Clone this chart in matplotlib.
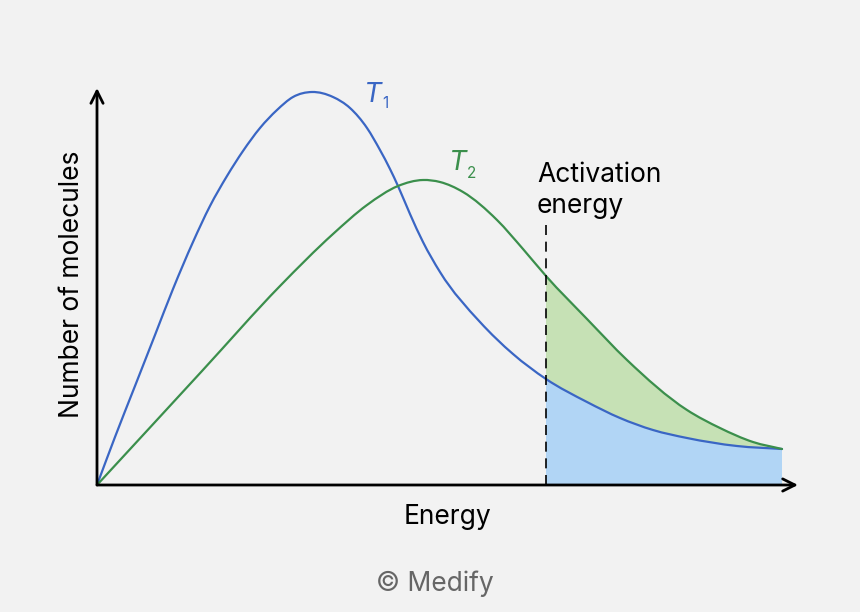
import numpy as np
import matplotlib.pyplot as plt
from matplotlib.path import Path
from matplotlib.patches import PathPatch

# curves (energy, number of molecules)
energy_t1 = [0, 18, 38, 58, 76, 96, 113, 130, 146, 163, 180, 196, 215, 236, 253, 270, 283, 293, 301, 313, 326, 343, 383, 416, 449, 490, 523, 556, 590, 640, 685]
count_t1 = [0, 48, 99, 150, 196, 243, 279, 309, 334, 357, 375, 388, 393, 388, 377, 357, 335, 316, 299, 271, 243, 213, 163, 131, 106, 83, 67, 55, 47, 39, 36]
energy_t2 = [0, 105, 183, 236, 270, 301, 326, 343, 366, 400, 426, 449, 490, 530, 590, 623, 656, 685]
count_t2 = [0, 114, 199, 251, 280, 299, 305, 303, 293, 265, 236, 209, 166, 125, 75, 57, 43, 36]
activation = 449

blue = "#3a66c4"
green = "#3b8f4c"
bg = "#f2f2f2"

plt.rcParams['font.family'] = ['Inter', 'DejaVu Sans']


def segments(x, y):
    # bezier pieces through the read points, slopes from neighbouring points
    x = np.asarray(x, dtype=float)
    y = np.asarray(y, dtype=float)
    h = np.diff(x)
    d = np.diff(y) / h
    m = np.empty_like(y)
    m[0] = d[0]
    m[-1] = d[-1]
    m[1:-1] = (d[1:] * h[:-1] + d[:-1] * h[1:]) / (h[:-1] + h[1:])
    segs = []
    for i in range(len(x) - 1):
        p1 = np.array([x[i], y[i]])
        p2 = np.array([x[i + 1], y[i + 1]])
        c1 = p1 + np.array([h[i] / 3, m[i] * h[i] / 3])
        c2 = p2 - np.array([h[i] / 3, m[i + 1] * h[i] / 3])
        segs.append((p1, c1, c2, p2))
    return segs


def curve_path(segs):
    verts = [segs[0][0]]
    codes = [Path.MOVETO]
    for s in segs:
        verts += [s[1], s[2], s[3]]
        codes += [Path.CURVE4] * 3
    return Path(verts, codes)


fig = plt.figure(figsize=(8.6, 6.12), dpi=100, facecolor=bg)
ax = fig.add_axes([97/860, 127/612, 701/860, 397/612])
ax.set_facecolor(bg)
ax.set_xlim(0, 701)
ax.set_ylim(0, 397)
for s in ax.spines.values():
    s.set_visible(False)
ax.set_xticks([])
ax.set_yticks([])

seg1 = segments(energy_t1, count_t1)
seg2 = segments(energy_t2, count_t2)
i1 = energy_t1.index(activation)
i2 = energy_t2.index(activation)
b_start = (activation, count_t1[i1])
g_start = (activation, count_t2[i2])
end_x = energy_t1[-1]

# blue area under T1 past the activation energy
verts = [(activation, 0), b_start]
codes = [Path.MOVETO, Path.LINETO]
for s in seg1[i1:]:
    verts += [s[1], s[2], s[3]]
    codes += [Path.CURVE4] * 3
verts += [(end_x, 0), (activation, 0)]
codes += [Path.LINETO, Path.CLOSEPOLY]
ax.add_patch(PathPatch(Path(verts, codes), facecolor="#b1d5f5", lw=0))

# green area between T1 and T2
verts = [b_start, g_start]
codes = [Path.MOVETO, Path.LINETO]
for s in seg2[i2:]:
    verts += [s[1], s[2], s[3]]
    codes += [Path.CURVE4] * 3
verts.append((end_x, count_t1[-1]))
codes.append(Path.LINETO)
for s in reversed(seg1[i1:]):
    verts += [s[2], s[1], s[0]]
    codes += [Path.CURVE4] * 3
verts.append(b_start)
codes.append(Path.CLOSEPOLY)
ax.add_patch(PathPatch(Path(verts, codes), facecolor="#c6e1b5", lw=0))

ax.add_patch(PathPatch(curve_path(seg1), facecolor='none', edgecolor=blue, lw=1.6, capstyle='round'))
ax.add_patch(PathPatch(curve_path(seg2), facecolor='none', edgecolor=green, lw=1.6, capstyle='round'))

ax.plot([activation, activation], [0, 260], color="black", lw=1.2, ls=(0, (6, 4)))

# axes with open arrow heads
ax.annotate('', xy=(701, 0), xytext=(0, 0), annotation_clip=False,
            arrowprops=dict(arrowstyle='->', lw=2, color='black', mutation_scale=22, shrinkA=0, shrinkB=0))
ax.annotate('', xy=(0, 397), xytext=(0, 0), annotation_clip=False,
            arrowprops=dict(arrowstyle='->', lw=2, color='black', mutation_scale=22, shrinkA=0, shrinkB=0))

ax.text(267, 383, "T", color=blue, fontsize=20, style='italic', va='baseline')
ax.text(285, 377, "1", color=blue, fontsize=11, va='baseline')
ax.text(352, 315, "T", color=green, fontsize=20, style='italic', va='baseline')
ax.text(370, 307, "2", color=green, fontsize=11, va='baseline')

ax.text(440, 303, "Activation", fontsize=19, color="black", va='baseline')
ax.text(440, 272, "energy", fontsize=19, color="black", va='baseline')

fig.text(448/860, 1 - 524/612, "Energy", fontsize=19, ha='center', va='baseline')
fig.text(72/860, 1 - 284/612, "Number of molecules", fontsize=19, ha='center', va='center', rotation=90)
fig.text(435/860, 1 - 591/612, "© Medify", fontsize=19, ha='center', va='baseline', color="#666666")

fig.savefig("out.png", dpi=100, facecolor=bg)
